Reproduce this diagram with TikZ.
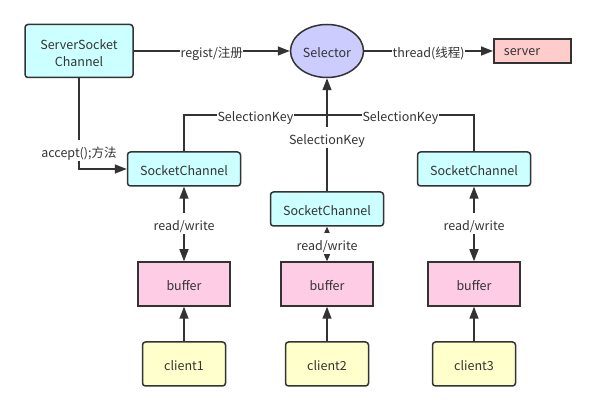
\documentclass[tikz,border=0pt]{standalone}
\usepackage{fontspec}
\setmainfont{Noto Sans CJK SC}
\usetikzlibrary{arrows.meta,shapes.geometric}
\definecolor{ink}{HTML}{333333}
\definecolor{chan}{HTML}{CCFFFF}
\definecolor{selc}{HTML}{CCCCFF}
\definecolor{serv}{HTML}{FFCCCC}
\definecolor{buff}{HTML}{FFCCE6}
\definecolor{clnt}{HTML}{FFFFCC}
\begin{document}
\begin{tikzpicture}[x=1pt,y=-1pt,
  every node/.style={font=\fontsize{12.5}{17}\selectfont,text=ink,text height=17pt,text depth=3pt},
  chanbox/.style={draw=ink,line width=1.5pt,rectangle,rounded corners=3pt,fill=chan,minimum width=113pt,minimum height=34pt,inner sep=0pt},
  bufbox/.style={draw=ink,line width=1.5pt,rectangle,fill=buff,minimum width=92pt,minimum height=44pt},
  clientbox/.style={draw=ink,line width=1.5pt,rectangle,rounded corners=3pt,fill=clnt,minimum width=83pt,minimum height=44pt},
  lbl/.style={fill=white,inner sep=0.5pt},
  conn/.style={draw=ink,line width=1.5pt},
  arr/.style={conn,-{Triangle[length=12pt,width=9pt]}},
  darr/.style={conn,{Triangle[length=12pt,width=9pt]}-{Triangle[length=12pt,width=9pt]}}]

\useasboundingbox (0,0) rectangle (595,411);

\node[chanbox,minimum width=108pt,minimum height=53pt,align=center,text height=31pt,text depth=0pt] (ssc) at (79,51) {ServerSocket\\Channel};
\node[draw=ink,line width=1.5pt,ellipse,fill=selc,minimum width=73pt,minimum height=53pt,inner sep=0pt] (sel) at (327,51) {Selector};
\node[draw=ink,line width=1.9pt,rectangle,fill=serv,text width=57pt,align=left,inner xsep=10pt,minimum height=24pt,text height=9pt,text depth=0pt,anchor=west] (srv) at (493,51) {server};

\node[chanbox] (sc1) at (184,169) {SocketChannel};
\node[chanbox] (sc2) at (327,209) {SocketChannel};
\node[chanbox] (sc3) at (474,169) {SocketChannel};

\node[bufbox] (buf1) at (184,284) {buffer};
\node[bufbox] (buf2) at (327,284) {buffer};
\node[bufbox] (buf3) at (474,284) {buffer};

\node[clientbox] (cl1) at (184,364) {client1};
\node[clientbox] (cl2) at (327,364) {client2};
\node[clientbox] (cl3) at (474,364) {client3};

\coordinate (join) at (327,115);

\draw[arr] (ssc) -- node[lbl] {regist/注册} (sel);
\draw[arr] (sel) -- node[lbl] {thread(线程)} (srv);
\draw[arr] (ssc.south) |- node[lbl,pos=0.4] {accept();方法} (sc1.west);

\draw[conn] (sc1.north) |- node[lbl,pos=0.75] {SelectionKey} (join);
\draw[conn] (sc3.north) |- node[lbl,pos=0.75] {SelectionKey} (join);
\draw[arr] (sc2.north) -- node[lbl,pos=0.48] {SelectionKey} (sel.south);

\draw[darr] (sc1) -- node[lbl] {read/write} (buf1);
\draw[conn,line width=1pt,{Triangle[length=7pt,width=6pt]}-{Triangle[length=7pt,width=6pt]}] (sc2) -- node[lbl] {read/write} (buf2);
\draw[darr] (sc3) -- node[lbl] {read/write} (buf3);

\draw[arr] (cl1) -- (buf1);
\draw[arr] (cl2) -- (buf2);
\draw[arr] (cl3) -- (buf3);

\end{tikzpicture}
\end{document}
